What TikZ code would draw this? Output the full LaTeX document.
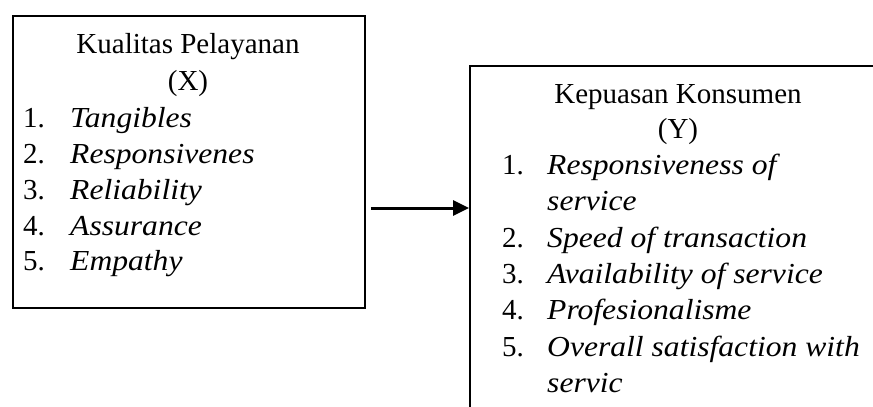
\documentclass[tikz,border=0pt]{standalone}
\usepackage{fontspec}
\setmainfont{Liberation Serif}[ItalicFont={Liberation Serif Italic},ItalicFeatures={FakeStretch=1.09}]
\usetikzlibrary{arrows.meta}
\begin{document}
\begin{tikzpicture}[x=1pt,y=-1pt,
  frame/.style={draw, line width=1.8pt, inner sep=0pt, anchor=north west},
  txt/.style={inner sep=0pt, font=\fontsize{29}{36}\selectfont},
  item/.style={inner sep=0pt, anchor=base west, font=\fontsize{29}{36}\selectfont\itshape},
  num/.style={txt, anchor=base west},
  head/.style={txt, anchor=base},
  link/.style={line width=3pt, -{Triangle[length=16pt,width=15pt]}}]
\useasboundingbox (0,0) rectangle (873,407);
\clip (0,0) rectangle (873,407);
\fill[white] (0,0) rectangle (873,407);

% independent variable box
\node[frame, minimum width=352pt, minimum height=292pt] (lbox) at (12,15) {};
\node[head] (lt1) at (188,53) {Kualitas Pelayanan};
\node[head] (lt2) at (188,90) {(X)};
\node[num] (ln1) at (23,127) {1.};
\node[item] (li1) at (70,127) {Tangibles};
\node[num] (ln2) at (23,163) {2.};
\node[item] (li2) at (70,163) {Responsivenes};
\node[num] (ln3) at (23,199) {3.};
\node[item] (li3) at (70,199) {Reliability};
\node[num] (ln4) at (23,235) {4.};
\node[item] (li4) at (70,235) {Assurance};
\node[num] (ln5) at (23,270) {5.};
\node[item] (li5) at (70,270) {Empathy};

% dependent variable box (runs past the page edge)
\node[frame, minimum width=430pt, minimum height=380pt] (rbox) at (469,65) {};
\node[head] (rt1) at (678,103) {Kepuasan Konsumen};
\node[head] (rt2) at (678,138) {(Y)};
\node[num] (rn1) at (502,174) {1.};
\node[item] (ri1) at (547,174) {Responsiveness of};
\node[item] (ri1b) at (547,210) {service};
\node[num] (rn2) at (502,247) {2.};
\node[item] (ri2) at (547,247) {Speed of transaction};
\node[num] (rn3) at (502,283) {3.};
\node[item] (ri3) at (547,283) {Availability of service};
\node[num] (rn4) at (502,319) {4.};
\node[item] (ri4) at (547,319) {Profesionalisme};
\node[num] (rn5) at (502,356) {5.};
\node[item] (ri5) at (547,356) {Overall satisfaction with};
\node[item] (ri5b) at (547,392) {servic};

% influence arrow
\coordinate (ay) at (0,208);
\draw[link] ([xshift=5pt]lbox.east |- ay) -- (rbox.west |- ay);
\end{tikzpicture}
\end{document}
